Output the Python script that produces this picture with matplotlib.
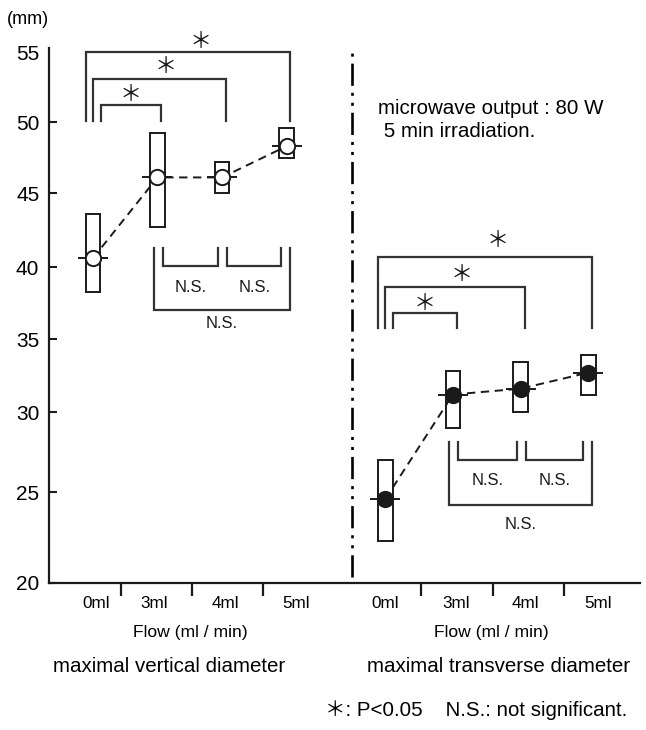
import matplotlib.pyplot as plt
import numpy as np

plt.rcParams['font.family'] = ['Liberation Sans', 'Noto Sans CJK JP', 'DejaVu Sans']
plt.rcParams['lines.scale_dashes'] = False

# data (mm)
flows = ['0ml', '3ml', '4ml', '5ml']

vert_mean = [40.6, 46.1, 46.1, 48.3]
vert_low = [38.3, 42.7, 45.0, 47.5]
vert_high = [43.6, 49.2, 47.2, 49.6]

trans_mean = [24.6, 31.2, 31.6, 32.7]
trans_low = [22.3, 29.0, 30.0, 31.2]
trans_high = [27.0, 32.8, 33.4, 33.9]

# the printed y axis is not evenly spaced: tick value -> height on the page
ytick_vals = [20, 25, 30, 35, 40, 45, 50, 55]
ytick_height = [0, 91, 171, 244, 316, 390, 461, 531]


def piecewise(x, xs, ys):
    x = np.asarray(x, dtype=float)
    out = np.interp(x, xs, ys)
    lo_slope = (ys[1] - ys[0]) / (xs[1] - xs[0])
    hi_slope = (ys[-1] - ys[-2]) / (xs[-1] - xs[-2])
    out = np.where(x < xs[0], ys[0] + (x - xs[0]) * lo_slope, out)
    out = np.where(x > xs[-1], ys[-1] + (x - xs[-1]) * hi_slope, out)
    return out


def fwd(v):
    return piecewise(v, ytick_vals, ytick_height)


def inv(h):
    return piecewise(h, ytick_height, ytick_vals)


# layout
left_pos = np.arange(4) * 1.0
right_pos = 4.53 + np.arange(4) * 1.05
box_w = 0.23
ink = '#1a1a1a'
brk = '#333333'

fig = plt.figure(figsize=(6.46, 7.3), dpi=100)
ax = fig.add_axes([49 / 646, 147 / 730, 591 / 646, 535 / 730])
ax.set_yscale('function', functions=(fwd, inv))
ax.set_xlim(-0.682, 8.48)
ax.set_ylim(20, 55.29)

for s in ['top', 'right']:
    ax.spines[s].set_visible(False)
for s in ['left', 'bottom']:
    ax.spines[s].set_linewidth(1.6)
    ax.spines[s].set_color(ink)


def draw_group(pos, mean, low, high, filled):
    low = np.array(low)
    high = np.array(high)
    ax.bar(pos, high - low, bottom=low, width=box_w, color='white',
           edgecolor=ink, linewidth=1.4, zorder=2)
    ax.plot(pos, mean, color=ink, lw=1.4, ls=(0, (6, 4)), zorder=3)
    ax.plot(pos, mean, ls='none', marker='_', ms=21, mew=1.4, color=ink, zorder=4)
    ax.plot(pos, mean, ls='none', marker='o', ms=11,
            mfc=ink if filled else 'white', mec=ink, mew=1.4, zorder=5)


def sig_brackets(pos, tops, leg, stars):
    lefts = pos[0] + np.array([0.12, 0.0, -0.11])
    rights = pos[1:] + 0.06
    shift = [0.0, 0.1, 0.2]
    for l, r, t, st, sh in zip(lefts, rights, tops, stars, shift):
        ax.plot([l, l, r, r], [leg, t, t, leg], color=brk, lw=1.6,
                clip_on=False, solid_joinstyle='miter')
        ax.text((l + r) / 2 + sh, st, '＊', fontsize=16, ha='center',
                va='center', color=ink, clip_on=False)


def ns_brackets(pos, top, inner_bot, outer_bot, text_y, bottom_text_y):
    pairs = [(pos[1] + 0.08, pos[2] - 0.06), (pos[2] + 0.08, pos[3] - 0.08)]
    for l, r in pairs:
        ax.plot([l, l, r, r], [top, inner_bot, inner_bot, top], color=brk, lw=1.6,
                solid_joinstyle='miter')
        ax.text((l + r) / 2, text_y, 'N.S.', fontsize=12, ha='center',
                va='center', color=ink)
    l, r = pos[1] - 0.06, pos[3] + 0.05
    ax.plot([l, l, r, r], [top, outer_bot, outer_bot, top], color=brk, lw=1.6,
            solid_joinstyle='miter')
    ax.text((l + r) / 2, bottom_text_y, 'N.S.', fontsize=12, ha='center',
            va='center', color=ink)


draw_group(left_pos, vert_mean, vert_low, vert_high, filled=False)
draw_group(right_pos, trans_mean, trans_low, trans_high, filled=True)

sig_brackets(left_pos, [51.2, 53.1, 55.0], 50.1, [51.9, 53.9, 55.65])
sig_brackets(right_pos, [36.8, 38.6, 40.7], 35.8, [37.4, 39.4, 41.7])

ns_brackets(left_pos, 41.3, 40.1, 37.0, 38.6, 36.1)
ns_brackets(right_pos, 28.1, 27.0, 24.3, 25.75, 23.2)

# divider between the two panels
ax.axvline(4.016, ymin=0.011, ymax=1, color='black', lw=1.9,
           ls=(0, (16, 5, 2.2, 5, 2.2, 5)))

# axes ticks
ax.set_yticks(ytick_vals)
ax.set_yticklabels([str(v) for v in ytick_vals])
ax.tick_params(axis='y', direction='in', length=6, width=1.5, color=ink,
               labelsize=15, pad=7)
ax.yaxis.set_minor_locator(plt.NullLocator())
ax.yaxis.get_major_ticks()[-1].tick1line.set_visible(False)

xticks = list(0.434 + np.arange(3) * 1.1) + list(5.085 + np.arange(3) * 1.11)
ax.set_xticks(xticks)
ax.set_xticklabels([])
ax.tick_params(axis='x', which='major', direction='out', length=9, width=1.6,
               color=ink)
label_pos = [0.05, 0.95, 2.05, 3.15, 4.53, 5.63, 6.71, 7.83]
ax.set_xticks(label_pos, minor=True)
ax.set_xticklabels(flows + flows, minor=True)
ax.tick_params(axis='x', which='minor', length=0, labelsize=12.3, pad=9)

ax.text(0.557, 0.886, 'microwave output : 80 W', transform=ax.transAxes,
        fontsize=14.8, va='center', ha='left')
ax.text(0.557, 0.843, ' 5 min irradiation.', transform=ax.transAxes,
        fontsize=14.8, va='center', ha='left')

fig.text(28 / 646, 1 - 20 / 730, '(mm)', fontsize=13, ha='center', va='center')
fig.text(190 / 646, 1 - 632 / 730, 'Flow (ml / min)', fontsize=12.6,
         ha='center', va='center')
fig.text(491 / 646, 1 - 632 / 730, 'Flow (ml / min)', fontsize=12.6,
         ha='center', va='center')
fig.text(169 / 646, 1 - 667 / 730, 'maximal vertical diameter', fontsize=14.8,
         ha='center', va='center')
fig.text(499 / 646, 1 - 667 / 730, 'maximal transverse diameter', fontsize=14.8,
         ha='center', va='center')
fig.text(325 / 646, 1 - 710 / 730, '＊: P<0.05    N.S.: not significant.',
         fontsize=14.8, ha='left', va='center')

fig.savefig('out.png', dpi=100)
